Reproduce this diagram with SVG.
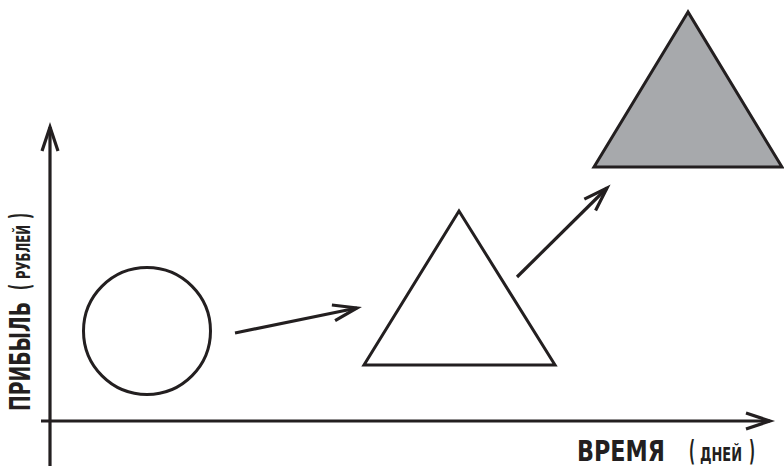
<svg xmlns="http://www.w3.org/2000/svg" width="784" height="474" viewBox="0 0 784 474">
<style>
.ln{stroke:#231f20;stroke-width:3.2;fill:none;stroke-linejoin:miter;stroke-miterlimit:10}
.shape{stroke:#231f20;stroke-width:3;stroke-linejoin:miter;stroke-miterlimit:10}
.lbl{font-family:"DejaVu Sans Condensed","DejaVu Sans",sans-serif;font-stretch:condensed;font-weight:bold;fill:#231f20}
.big{font-size:29px}
.sm{font-size:20px}
</style>
<defs>
<marker id="chev" markerUnits="userSpaceOnUse" markerWidth="40" markerHeight="30" viewBox="-30 -15 40 30" refX="0" refY="0" orient="auto" overflow="visible">
<path d="M-24,-8 L0,0 L-24,8" fill="none" stroke="#231f20" stroke-width="3.2" stroke-linejoin="miter" stroke-miterlimit="10"/>
</marker>
</defs>
<g id="axes">
<line class="ln" x1="50" y1="466" x2="50" y2="127" marker-end="url(#chev)"/>
<line class="ln" x1="41" y1="421" x2="770" y2="421" marker-end="url(#chev)"/>
</g>
<g id="circle">
<circle class="shape" cx="147" cy="331" r="63.5" fill="#ffffff"/>
</g>
<g id="triangle-white">
<polygon class="shape" points="459,211 364,365 555,365" fill="#ffffff"/>
</g>
<g id="triangle-gray">
<polygon class="shape" points="688,12 594,167 782,167" fill="#a7a9ac"/>
</g>
<g id="connectors">
<line class="ln" x1="235" y1="333" x2="357" y2="308" marker-end="url(#chev)"/>
<line class="ln" x1="517" y1="277" x2="607" y2="188" marker-end="url(#chev)"/>
</g>
<g id="label-y" transform="translate(30,0) rotate(-90)">
<text class="lbl big" x="-411" y="0" textLength="109" lengthAdjust="spacingAndGlyphs">ПРИБЫЛЬ</text>
<text class="lbl big" transform="translate(-290,0) scale(0.5,1)">(</text>
<text class="lbl sm" x="-279" y="0" textLength="54" lengthAdjust="spacingAndGlyphs">РУБЛЕЙ</text>
<text class="lbl big" transform="translate(-219,0) scale(0.5,1)">)</text>
</g>
<g id="label-x">
<text class="lbl big" x="577" y="461" textLength="88" lengthAdjust="spacingAndGlyphs">ВРЕМЯ</text>
<text class="lbl big" transform="translate(689,461) scale(0.5,1)">(</text>
<text class="lbl sm" transform="translate(700,461) scale(0.72,1)">ДНЕЙ</text>
<text class="lbl big" transform="translate(749,461) scale(0.5,1)">)</text>
</g>
</svg>
